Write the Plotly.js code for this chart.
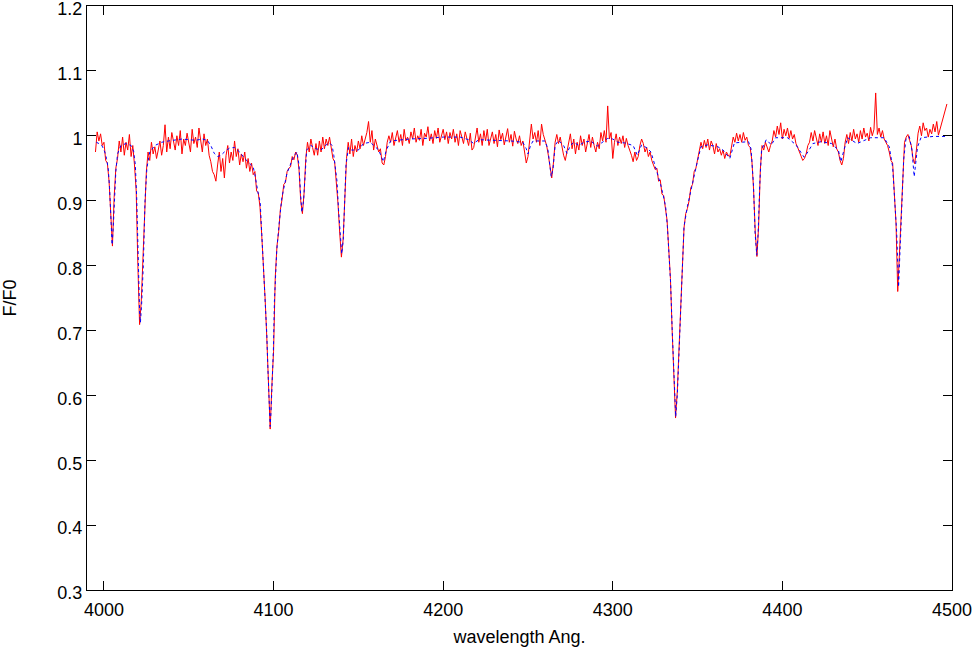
<!DOCTYPE html>
<html>
<head>
<meta charset="utf-8">
<script src="https://cdn.plot.ly/plotly-3.0.1.min.js"></script>
<style>
  body { margin: 0; background: #fff; }
  #plot { width: 978px; height: 650px; }
</style>
</head>
<body>
<div id="plot"></div>
<script>
// observed spectrum (red), wavelength in Angstrom
var obsWl = [
  3995, 3996, 3997, 3998, 3999, 4000, 4001, 4002, 4003, 4004,
  4005, 4006, 4007, 4008, 4009, 4010, 4011, 4012, 4013, 4014,
  4015, 4016, 4017, 4018, 4019, 4020, 4021, 4022, 4023, 4024,
  4025, 4026, 4027, 4028, 4029, 4030, 4031, 4032, 4033, 4034,
  4035, 4036, 4037, 4038, 4039, 4040, 4041, 4042, 4043, 4044,
  4045, 4046, 4047, 4048, 4049, 4050, 4051, 4052, 4053, 4054,
  4055, 4056, 4057, 4058, 4059, 4060, 4061, 4062, 4063, 4064,
  4065, 4066, 4067, 4068, 4069, 4070, 4071, 4072, 4073, 4074,
  4075, 4076, 4077, 4078, 4079, 4080, 4081, 4082, 4083, 4084,
  4085, 4086, 4087, 4088, 4089, 4090, 4091, 4092, 4093, 4094,
  4095, 4096, 4097, 4098, 4099, 4100, 4101, 4102, 4103, 4104,
  4105, 4106, 4107, 4108, 4109, 4110, 4111, 4112, 4113, 4114,
  4115, 4116, 4117, 4118, 4119, 4120, 4121, 4122, 4123, 4124,
  4125, 4126, 4127, 4128, 4129, 4130, 4131, 4132, 4133, 4134,
  4135, 4136, 4137, 4138, 4139, 4140, 4141, 4142, 4143, 4144,
  4145, 4146, 4147, 4148, 4149, 4150, 4151, 4152, 4153, 4154,
  4155, 4156, 4157, 4158, 4159, 4160, 4161, 4162, 4163, 4164,
  4165, 4166, 4167, 4168, 4169, 4170, 4171, 4172, 4173, 4174,
  4175, 4176, 4177, 4178, 4179, 4180, 4181, 4182, 4183, 4184,
  4185, 4186, 4187, 4188, 4189, 4190, 4191, 4192, 4193, 4194,
  4195, 4196, 4197, 4198, 4199, 4200, 4201, 4202, 4203, 4204,
  4205, 4206, 4207, 4208, 4209, 4210, 4211, 4212, 4213, 4214,
  4215, 4216, 4217, 4218, 4219, 4220, 4221, 4222, 4223, 4224,
  4225, 4226, 4227, 4228, 4229, 4230, 4231, 4232, 4233, 4234,
  4235, 4236, 4237, 4238, 4239, 4240, 4241, 4242, 4243, 4244,
  4245, 4246, 4247, 4248, 4249, 4250, 4251, 4252, 4253, 4254,
  4255, 4256, 4257, 4258, 4259, 4260, 4261, 4262, 4263, 4264,
  4265, 4266, 4267, 4268, 4269, 4270, 4271, 4272, 4273, 4274,
  4275, 4276, 4277, 4278, 4279, 4280, 4281, 4282, 4283, 4284,
  4285, 4286, 4287, 4288, 4289, 4290, 4291, 4292, 4293, 4294,
  4295, 4296, 4297, 4298, 4299, 4300, 4301, 4302, 4303, 4304,
  4305, 4306, 4307, 4308, 4309, 4310, 4311, 4312, 4313, 4314,
  4315, 4316, 4317, 4318, 4319, 4320, 4321, 4322, 4323, 4324,
  4325, 4326, 4327, 4328, 4329, 4330, 4331, 4332, 4333, 4334,
  4335, 4336, 4337, 4338, 4339, 4340, 4341, 4342, 4343, 4344,
  4345, 4346, 4347, 4348, 4349, 4350, 4351, 4352, 4353, 4354,
  4355, 4356, 4357, 4358, 4359, 4360, 4361, 4362, 4363, 4364,
  4365, 4366, 4367, 4368, 4369, 4370, 4371, 4372, 4373, 4374,
  4375, 4376, 4377, 4378, 4379, 4380, 4381, 4382, 4383, 4384,
  4385, 4386, 4387, 4388, 4389, 4390, 4391, 4392, 4393, 4394,
  4395, 4396, 4397, 4398, 4399, 4400, 4401, 4402, 4403, 4404,
  4405, 4406, 4407, 4408, 4409, 4410, 4411, 4412, 4413, 4414,
  4415, 4416, 4417, 4418, 4419, 4420, 4421, 4422, 4423, 4424,
  4425, 4426, 4427, 4428, 4429, 4430, 4431, 4432, 4433, 4434,
  4435, 4436, 4437, 4438, 4439, 4440, 4441, 4442, 4443, 4444,
  4445, 4446, 4447, 4448, 4449, 4450, 4451, 4452, 4453, 4454,
  4455, 4456, 4457, 4458, 4459, 4460, 4461, 4462, 4463, 4464,
  4465, 4466, 4467, 4468, 4469, 4470, 4471, 4472, 4473, 4474,
  4475, 4476, 4477, 4478, 4479, 4480, 4481, 4482, 4483, 4484,
  4485, 4486, 4487, 4488, 4489, 4490, 4491, 4492, 4497
];
var obsFlux = [
  0.975, 1.006, 0.992, 1.003, 0.985, 0.990, 0.962, 0.958, 0.930, 0.872,
  0.830, 0.905, 0.950, 0.965, 0.992, 0.975, 0.998, 0.970, 0.990, 0.978,
  1.002, 0.968, 0.985, 0.955, 0.915, 0.800, 0.709, 0.745, 0.810, 0.895,
  0.945, 0.975, 0.962, 0.990, 0.972, 0.983, 0.965, 0.978, 0.992, 0.970,
  0.985, 1.017, 0.975, 0.998, 0.980, 1.005, 0.988, 0.978, 1.000, 0.985,
  1.008, 0.972, 0.995, 0.985, 1.004, 0.990, 0.975, 1.010, 0.988, 0.998,
  0.982, 1.012, 0.990, 0.975, 1.003, 0.985, 0.995, 0.970, 0.960, 0.945,
  0.940, 0.930, 0.955, 0.975, 0.945, 0.965, 0.935, 0.970, 0.985, 0.958,
  0.975, 0.962, 0.992, 0.968, 0.980, 0.955, 0.972, 0.960, 0.975, 0.950,
  0.965, 0.945, 0.958, 0.940, 0.945, 0.915, 0.912, 0.890, 0.848, 0.805,
  0.750, 0.690, 0.620, 0.548, 0.615, 0.668, 0.782, 0.830, 0.852, 0.886,
  0.902, 0.925, 0.928, 0.945, 0.950, 0.952, 0.968, 0.963, 0.975, 0.970,
  0.948, 0.900, 0.880, 0.912, 0.965, 0.990, 0.975, 0.995, 0.982, 0.970,
  0.988, 0.970, 0.992, 0.975, 0.998, 0.980, 0.995, 0.985, 0.998, 0.978,
  0.965, 0.960, 0.930, 0.895, 0.850, 0.813, 0.840, 0.905, 0.965, 0.990,
  0.972, 0.995, 0.968, 0.985, 0.975, 0.992, 0.980, 1.000, 0.985, 0.995,
  1.005, 1.022, 0.990, 1.008, 0.978, 0.995, 0.985, 0.975, 0.980, 0.958,
  0.955, 0.968, 0.990, 1.000, 0.990, 1.005, 0.985, 0.998, 1.008, 0.990,
  1.002, 0.985, 1.010, 0.992, 0.998, 0.988, 1.006, 0.995, 1.012, 0.990,
  1.000, 0.993, 1.010, 0.985, 1.004, 0.998, 1.014, 0.992, 1.003, 0.988,
  1.008, 0.996, 1.012, 0.990, 1.002, 1.010, 0.994, 1.006, 0.988, 1.005,
  0.995, 1.010, 0.990, 1.003, 0.985, 1.008, 0.998, 0.988, 1.006, 0.993,
  0.985, 1.004, 0.978, 0.982, 0.995, 1.012, 0.990, 1.003, 0.985, 1.008,
  0.992, 1.010, 0.985, 0.998, 1.006, 0.988, 1.002, 0.983, 1.009, 0.994,
  1.004, 0.986, 0.999, 1.011, 0.990, 1.002, 0.984, 1.007, 0.995, 0.988,
  1.000, 0.985, 0.992, 0.978, 0.958, 0.968, 0.990, 1.018, 0.995, 1.005,
  0.990, 1.008, 0.985, 1.018, 1.002, 0.995, 0.985, 0.970, 0.950, 0.935,
  0.958, 0.990, 1.002, 0.988, 0.998, 0.982, 0.970, 0.962, 0.975, 0.992,
  1.003, 0.980, 0.995, 0.972, 0.990, 0.978, 1.000, 0.985, 0.995, 0.975,
  0.990, 1.002, 0.982, 0.998, 0.985, 0.975, 0.990, 0.980, 1.005, 0.992,
  1.008, 0.990, 1.046, 0.995, 1.005, 0.965, 0.990, 1.003, 0.985, 0.998,
  0.988, 1.000, 0.982, 0.996, 0.985, 0.978, 0.970, 0.960, 0.975, 0.962,
  0.968, 0.985, 0.995, 0.988, 0.975, 0.982, 0.968, 0.975, 0.962, 0.955,
  0.948, 0.950, 0.930, 0.932, 0.910, 0.908, 0.885, 0.870, 0.825, 0.780,
  0.700, 0.625, 0.565, 0.605, 0.670, 0.740, 0.812, 0.858, 0.880, 0.888,
  0.900, 0.920, 0.925, 0.945, 0.950, 0.965, 0.975, 0.990, 0.980, 0.993,
  0.982, 0.995, 0.978, 0.992, 0.985, 0.972, 0.988, 0.975, 0.980, 0.970,
  0.978, 0.965, 0.975, 0.970, 0.968, 0.985, 0.998, 0.990, 1.004, 0.992,
  1.002, 0.990, 1.005, 0.993, 0.998, 0.985, 0.982, 0.962, 0.918, 0.852,
  0.814, 0.862, 0.948, 0.985, 0.978, 0.990, 0.982, 0.975, 0.985, 0.992,
  1.008, 0.998, 1.015, 1.002, 1.020, 0.995, 1.010, 1.000, 1.012, 0.996,
  1.008, 0.995, 1.002, 0.988, 0.982, 0.975, 0.968, 0.962, 0.965, 0.972,
  0.985, 0.990, 1.005, 0.992, 1.008, 0.995, 0.985, 1.003, 0.990, 1.006,
  0.988, 1.000, 0.985, 1.008, 0.992, 0.983, 0.995, 0.980, 0.975, 0.962,
  0.955, 0.965, 0.990, 1.002, 0.988, 1.005, 0.992, 1.010, 0.995, 1.003,
  0.990, 1.008, 0.995, 1.012, 0.998, 1.004, 0.992, 1.013, 1.000, 1.010,
  1.066, 1.002, 1.012, 0.998, 1.008, 0.995, 0.990, 0.985, 0.975, 0.962,
  0.958, 0.912, 0.865, 0.760, 0.818, 0.890, 0.955, 0.990, 0.998, 1.002,
  0.993, 0.985, 0.965, 0.957, 0.978, 1.004, 1.015, 1.000, 1.020, 1.008,
  1.012, 0.998, 1.010, 1.003, 1.018, 1.006, 1.022, 1.001, 1.049
];

// model spectrum (blue dashed)
var modelWl = [
  3995.5, 3997, 3999, 4000.5, 4001.5, 4002.5, 4003.3, 4004, 4004.8, 4005.5,
  4006.2, 4007, 4008, 4010, 4013, 4016, 4017.5, 4018.5, 4019.3, 4020.2,
  4021, 4021.5, 4022.2, 4023.2, 4024.2, 4025.3, 4027, 4030, 4034, 4038,
  4042, 4046, 4050, 4054, 4058, 4061, 4063, 4065, 4067, 4069,
  4071, 4074, 4077, 4080, 4083, 4086, 4088, 4089, 4090.1, 4091,
  4092.1, 4093.1, 4094, 4095, 4096, 4096.6, 4097.4, 4098, 4098.5, 4099,
  4099.9, 4100.5, 4101.9, 4103.3, 4104.9, 4107.9, 4111.6, 4113.8, 4115, 4115.8,
  4116.7, 4117.7, 4118.5, 4119.5, 4122, 4125, 4128, 4131, 4133, 4134.5,
  4135.5, 4136.5, 4137.4, 4138.3, 4139.3, 4140.2, 4141.1, 4141.9, 4142.7, 4144.2,
  4146, 4150, 4153, 4157, 4160, 4162, 4164.7, 4166.5, 4169, 4175,
  4180, 4190, 4200, 4210, 4215, 4218, 4221, 4230, 4240, 4247,
  4249, 4250, 4251.5, 4253, 4260, 4261.7, 4262.8, 4263.7, 4264.8, 4266,
  4268, 4271, 4273, 4275, 4277, 4280, 4283, 4287, 4290.8, 4294,
  4297, 4300, 4303, 4307, 4312, 4314.5, 4317, 4320.3, 4322.5, 4324,
  4326, 4328.2, 4330.2, 4331.2, 4332.2, 4333.1, 4334.1, 4335.1, 4336.1, 4337.1,
  4338.1, 4339.1, 4340.1, 4341, 4342, 4344, 4346, 4348, 4350, 4352,
  4356, 4362, 4365, 4369, 4371.7, 4380, 4381.5, 4382.9, 4383.9, 4384.9,
  4385.7, 4386.7, 4387.7, 4390.5, 4393.5, 4396, 4403, 4408, 4412.8, 4415,
  4418, 4423, 4429, 4433, 4434.5, 4436.5, 4438.5, 4444, 4452, 4460,
  4463, 4465, 4466.4, 4467.4, 4468.5, 4469.5, 4470.3, 4471.5, 4472.8, 4474.8,
  4476.4, 4477.7, 4479.7, 4481.7, 4489, 4496.5
];
var modelFlux = [
  0.990, 0.988, 0.984, 0.975, 0.965, 0.950, 0.920, 0.875, 0.832, 0.860,
  0.905, 0.945, 0.972, 0.985, 0.988, 0.985, 0.976, 0.955, 0.905, 0.800,
  0.730, 0.712, 0.740, 0.800, 0.900, 0.950, 0.975, 0.985, 0.990, 0.992,
  0.994, 0.995, 0.994, 0.993, 0.995, 0.993, 0.985, 0.973, 0.968, 0.970,
  0.975, 0.981, 0.982, 0.975, 0.965, 0.958, 0.952, 0.940, 0.921, 0.910,
  0.898, 0.850, 0.800, 0.745, 0.695, 0.645, 0.595, 0.552, 0.575, 0.610,
  0.670, 0.745, 0.824, 0.865, 0.905, 0.942, 0.967, 0.975, 0.955, 0.915,
  0.882, 0.900, 0.945, 0.978, 0.985, 0.980, 0.978, 0.986, 0.989, 0.985,
  0.970, 0.950, 0.930, 0.886, 0.844, 0.818, 0.840, 0.905, 0.955, 0.982,
  0.978, 0.978, 0.988, 0.990, 0.982, 0.978, 0.960, 0.978, 0.992, 0.994,
  0.995, 0.996, 0.998, 0.998, 0.994, 0.988, 0.994, 0.993, 0.992, 0.990,
  0.980, 0.972, 0.985, 0.992, 0.992, 0.980, 0.955, 0.937, 0.950, 0.985,
  0.993, 0.985, 0.973, 0.985, 0.990, 0.985, 0.990, 0.992, 0.984, 0.990,
  0.996, 0.995, 0.990, 0.989, 0.985, 0.970, 0.986, 0.981, 0.975, 0.962,
  0.946, 0.925, 0.903, 0.890, 0.860, 0.824, 0.773, 0.696, 0.619, 0.567,
  0.603, 0.670, 0.747, 0.808, 0.860, 0.891, 0.916, 0.942, 0.962, 0.983,
  0.986, 0.983, 0.978, 0.965, 0.989, 0.991, 0.980, 0.927, 0.850, 0.816,
  0.850, 0.927, 0.978, 0.994, 0.986, 0.997, 0.997, 0.986, 0.967, 0.975,
  0.988, 0.991, 0.988, 0.978, 0.960, 0.980, 0.997, 0.988, 0.997, 0.997,
  0.983, 0.952, 0.901, 0.850, 0.767, 0.834, 0.901, 0.963, 0.994, 0.999,
  0.978, 0.937, 0.983, 0.997, 0.999, 0.999
];

var xTicks = [4000, 4100, 4200, 4300, 4400, 4500];
var yTicks = [0.3, 0.4, 0.5, 0.6, 0.7, 0.8, 0.9, 1, 1.1, 1.2];

var data = [{
    x: obsWl,
    y: obsFlux,
    type: 'scatter',
    mode: 'lines',
    line: { color: '#ff0000', width: 1 },
    hoverinfo: 'skip'
}, {
    x: modelWl,
    y: modelFlux,
    type: 'scatter',
    mode: 'lines',
    line: { color: '#0000ff', width: 1, dash: '3px,3px' },
    hoverinfo: 'skip'
}];

var axisStyle = {
    ticks: 'inside',
    ticklen: 9,
    tickwidth: 1,
    tickcolor: '#000',
    showline: true,
    linecolor: '#000',
    linewidth: 1,
    mirror: 'ticks',
    showgrid: false,
    zeroline: false,
    ticklabeloverflow: 'allow',
    tickfont: { family: 'Liberation Sans, Arial, sans-serif', size: 18, color: '#000' }
};

var layout = {
    width: 978,
    height: 650,
    margin: { l: 87, r: 26, t: 6, b: 60, pad: 0 },
    paper_bgcolor: '#fff',
    plot_bgcolor: '#fff',
    showlegend: false,
    font: { family: 'Liberation Sans, Arial, sans-serif', size: 18, color: '#000' },
    xaxis: Object.assign({}, axisStyle, {
        range: [3990, 4500],
        tickvals: xTicks,
        ticktext: xTicks.map(String),
        ticklabelstandoff: 3,
        title: { text: 'wavelength Ang.', font: { size: 18 }, standoff: 11 }
    }),
    yaxis: Object.assign({}, axisStyle, {
        range: [0.3, 1.2],
        tickvals: yTicks,
        ticktext: yTicks.map(String),
        ticklabelshift: 3,
        title: { text: 'F/F0', font: { size: 18 }, standoff: 37 }
    })
};

var config = { staticPlot: true };

Plotly.newPlot('plot', data, layout, config);
</script>
</body>
</html>
